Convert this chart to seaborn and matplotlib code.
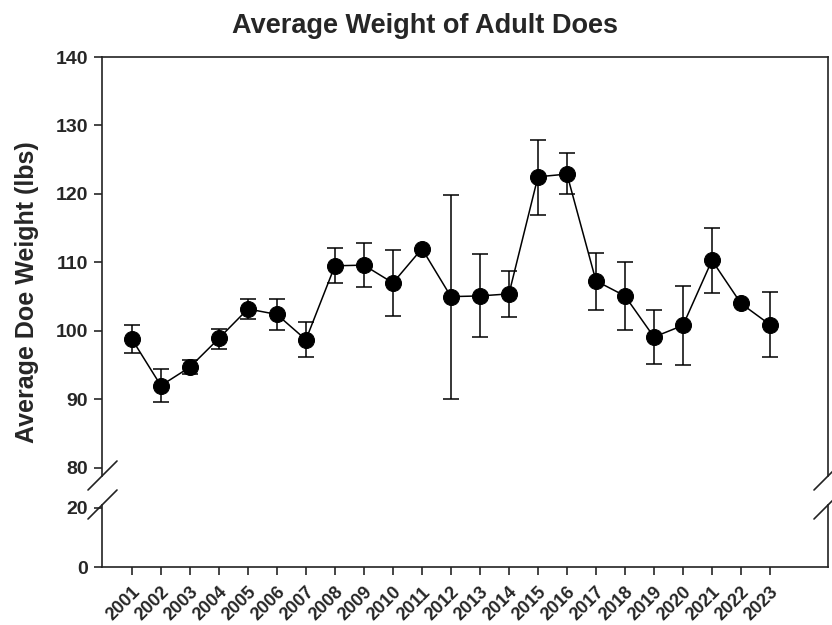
import numpy as np
import pandas as pd
import matplotlib
matplotlib.use("Agg")
import matplotlib.pyplot as plt
from matplotlib.lines import Line2D
import seaborn as sns

# values
years = list(range(2001, 2024))
mean_weight = [98.8, 92.0, 94.7, 98.9, 103.2, 102.4, 98.7, 109.5, 109.6, 107.0, 112.0, 105.0,
               105.1, 105.4, 122.5, 122.9, 107.3, 105.1, 99.1, 100.8, 110.3, 104.0, 100.9]
err_low = [96.8, 89.6, 93.7, 97.4, 101.8, 100.1, 96.2, 107.0, 106.4, 102.2, 112.0, 90.0,
           99.1, 102.0, 116.9, 120.0, 103.1, 100.1, 95.1, 95.0, 105.5, 104.0, 96.2]
err_high = [100.8, 94.4, 95.8, 100.3, 104.7, 104.6, 101.3, 112.1, 112.8, 111.8, 112.0, 119.9,
            111.2, 108.8, 127.9, 126.0, 111.4, 110.0, 103.0, 106.5, 115.0, 104.0, 105.7]
upper_ticks = [80, 90, 100, 110, 120, 130, 140]
lower_ticks = [0, 20]

df = pd.DataFrame({"year": years, "weight": mean_weight, "lo": err_low, "hi": err_high})

sns.set_style("ticks")
plt.rcParams["font.family"] = ["Liberation Sans", "DejaVu Sans"]
plt.rcParams["font.weight"] = "bold"

W, H = 832, 625
fig = plt.figure(figsize=(W / 100, H / 100), dpi=100)

left, right = 102 / W, 828 / W
top_ax = fig.add_axes([left, 1 - 476 / H, right - left, (476 - 57) / H])
bot_ax = fig.add_axes([left, 1 - 567 / H, right - left, (567 - 505) / H], sharex=top_ax)

# error bars, then the line with markers
yerr = np.vstack([df["weight"] - df["lo"], df["hi"] - df["weight"]])
top_ax.errorbar(df["year"], df["weight"], yerr=yerr, fmt="none", ecolor="black",
                elinewidth=1.1, capsize=6, capthick=1.1, zorder=2)
sns.lineplot(data=df, x="year", y="weight", ax=top_ax, color="black", linewidth=1.1,
             marker="o", markersize=11.5, markeredgecolor="black", markerfacecolor="black",
             zorder=3)

top_ax.set_ylim(78.8, 140)
bot_ax.set_ylim(0, 21)
top_ax.set_xlim(1999.97, 2025.0)
top_ax.set_yticks(upper_ticks)
bot_ax.set_yticks(lower_ticks)
bot_ax.set_xticks(years)
bot_ax.set_xticklabels([str(y) for y in years], rotation=45, ha="right",
                       rotation_mode="anchor", fontsize=13, fontweight="bold")
top_ax.tick_params(axis="x", which="both", bottom=False, labelbottom=False)
for ax in (top_ax, bot_ax):
    ax.set_xlabel("")
    ax.set_ylabel("")
    ax.tick_params(axis="y", direction="out", length=6, width=1.2, labelsize=14, pad=4)
    for lab in ax.get_yticklabels():
        lab.set_fontweight("bold")
    for sp in ax.spines.values():
        sp.set_linewidth(1.2)
        sp.set_color("#222222")
bot_ax.tick_params(axis="x", direction="out", length=6, width=1.2, pad=6)
top_ax.spines["bottom"].set_visible(False)
bot_ax.spines["top"].set_visible(False)

# axis break marks
for xc in (102, 828):
    for yc in (476, 505):
        fig.add_artist(Line2D([(xc - 14) / W, (xc + 15) / W],
                              [1 - (yc + 14) / H, 1 - (yc - 15) / H],
                              color="#222222", linewidth=1.2, transform=fig.transFigure))

fig.text(425 / W, 1 - 26 / H, "Average Weight of Adult Does", ha="center", va="center",
         fontsize=19.5, fontweight="bold")
fig.text(27 / W, 1 - 292 / H, "Average Doe Weight (lbs)", ha="center", va="center",
         rotation=90, fontsize=18, fontweight="bold")

fig.savefig("out.png", dpi=100)
